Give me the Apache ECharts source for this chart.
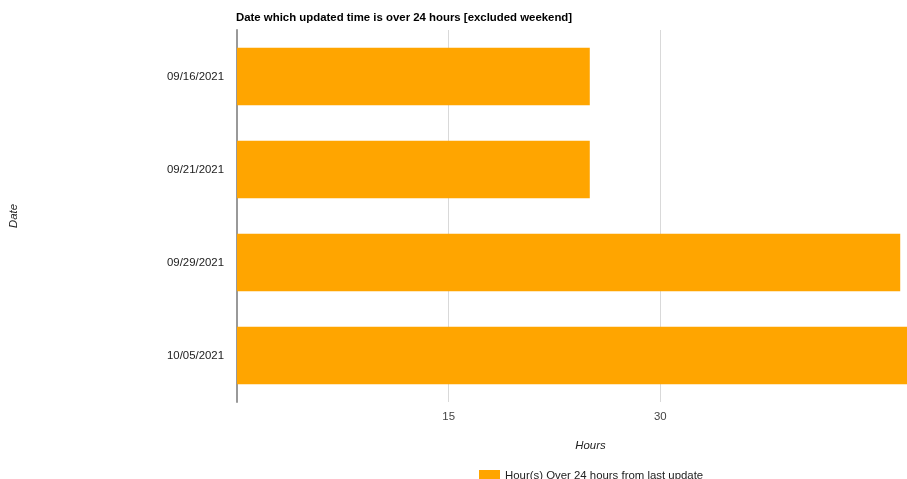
<!DOCTYPE html>
<html>
<head>
<meta charset="utf-8">
<script src="https://cdn.jsdelivr.net/npm/echarts@6/dist/echarts.min.js"></script>
<style>
  html, body { margin: 0; padding: 0; background: #fff; }
  #chart1 { width: 907px; height: 479px; }
</style>
</head>
<body>
<div id="chart1"></div>
<script>
var dates = ['09/16/2021', '09/21/2021', '09/29/2021', '10/05/2021'];
var hours = [25, 25, 47, 50];
var xTicks = [15, 30];

var myChart = echarts.init(document.getElementById('chart1'));
var font = 'Arial, "Liberation Sans", sans-serif';

myChart.setOption({
    animation: false,
    title: {
        text: 'Date which updated time is over 24 hours [excluded weekend]',
        left: 236,
        top: 12,
        padding: 0,
        textStyle: { fontFamily: font, fontSize: 11.4, fontWeight: 'bold', color: '#000' }
    },
    legend: {
        left: 479,
        top: 470,
        padding: 0,
        itemWidth: 21,
        itemHeight: 12,
        itemGap: 4,
        icon: 'rect',
        textStyle: { fontFamily: font, fontSize: 11.4, color: '#222' },
        data: ['Hour(s) Over 24 hours from last update']
    },
    grid: { left: 236, right: 35, top: 30, bottom: 77, containLabel: false },
    xAxis: {
        type: 'value',
        min: 0,
        max: 45,
        interval: 15,
        name: 'Hours',
        nameLocation: 'middle',
        nameGap: 38,
        nameTextStyle: { fontFamily: font, fontSize: 11.4, fontStyle: 'italic', color: '#222', padding: [0, 0, 0, 72] },
        axisLine: { show: false },
        axisTick: { show: false },
        axisLabel: {
            showMinLabel: false,
            showMaxLabel: false,
            margin: 9,
            fontFamily: font, fontSize: 11.4, color: '#444',
            formatter: function (v) { return xTicks.indexOf(v) >= 0 ? v : ''; }
        },
        splitLine: { show: true, showMinLine: false, showMaxLine: false, lineStyle: { color: '#d9d9d9', width: 1 } }
    },
    yAxis: {
        type: 'category',
        inverse: true,
        data: dates,
        name: 'Date',
        nameLocation: 'middle',
        nameGap: 218,
        nameRotate: 90,
        nameTextStyle: { fontFamily: font, fontSize: 11.4, fontStyle: 'italic', color: '#222' },
        axisLine: { show: true, lineStyle: { color: '#999', width: 2 } },
        axisTick: { show: false },
        axisLabel: { margin: 13, fontFamily: font, fontSize: 11.4, color: '#222' },
        splitLine: { show: false }
    },
    series: [{
        name: 'Hour(s) Over 24 hours from last update',
        type: 'bar',
        data: hours,
        barCategoryGap: '38%',
        clip: false,
        itemStyle: { color: '#FFA500' }
    }]
});
</script>
</body>
</html>
